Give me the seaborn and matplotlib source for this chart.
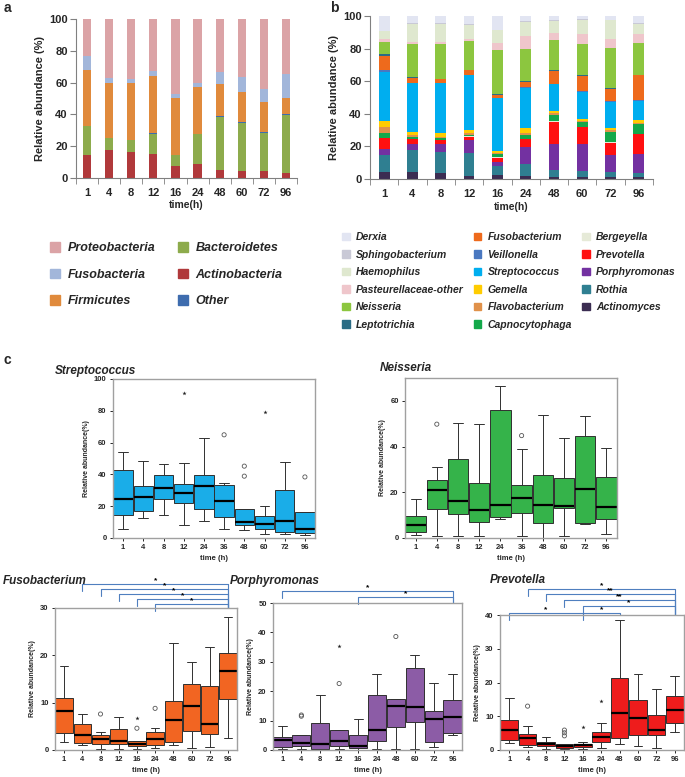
import numpy as np
import pandas as pd
import matplotlib
matplotlib.use("Agg")
import matplotlib.pyplot as plt
from matplotlib.patches import Patch
import seaborn as sns

sns.set_style("ticks")
plt.rcParams['font.family'] = ['Liberation Sans', 'DejaVu Sans']
plt.rcParams['font.weight'] = 'bold'

# ---------------- data ----------------
times_ab = ["1", "4", "8", "12", "16", "24", "48", "60", "72", "96"]

# panel a, phylum level (bottom -> top)
actinobacteria = [14.6, 17.8, 16.3, 15.3, 7.7, 8.6, 4.8, 4.6, 4.2, 3.1]
bacteroidetes = [17.8, 7.2, 7.7, 12.5, 6.5, 18.8, 33.5, 29.9, 24.0, 36.6]
other = [0.2, 0.2, 0.2, 0.2, 0.2, 0.2, 0.5, 0.5, 0.6, 0.8]
firmicutes = [35.4, 34.4, 35.4, 36.2, 35.8, 29.5, 20.4, 19.4, 18.9, 10.1]
fusobacteria = [9.0, 3.2, 2.4, 3.0, 2.5, 2.9, 7.4, 9.4, 8.2, 14.9]
proteobacteria = [23.0, 37.2, 38.0, 32.8, 47.3, 40.0, 33.4, 36.2, 44.1, 34.5]

# panel b, genus level (bottom -> top)
actinomyces = [4.1, 4.1, 3.5, 1.8, 2.4, 1.8, 1.4, 1.4, 1.4, 1.4]
rothia = [10.6, 13.7, 13.2, 14.3, 5.6, 7.2, 4.1, 3.5, 3.1, 2.5]
porphyromonas = [3.5, 3.4, 4.7, 7.8, 2.6, 10.8, 15.9, 16.3, 10.2, 11.2]
prevotella = [6.7, 3.1, 2.5, 2.0, 2.3, 4.5, 13.7, 10.4, 7.5, 12.5]
bergeyella = [0.3, 0.2, 0.2, 0.2, 0.4, 0.3, 0.3, 0.3, 0.4, 0.3]
capnocytophaga = [2.8, 1.0, 0.8, 0.8, 2.0, 2.3, 3.8, 3.2, 6.4, 5.8]
flavobacterium = [4.0, 1.4, 1.0, 1.1, 0.8, 1.1, 1.0, 0.6, 1.0, 0.8]
gemella = [3.5, 2.1, 2.1, 2.0, 1.2, 3.0, 1.6, 1.4, 1.4, 2.0]
streptococcus = [30.2, 29.6, 30.6, 33.7, 32.1, 25.1, 16.4, 16.4, 15.9, 11.5]
veillonella = [1.0, 0.4, 0.3, 0.3, 0.3, 0.3, 0.3, 0.5, 0.4, 0.5]
fusobacterium = [8.6, 3.2, 2.3, 2.7, 2.1, 3.2, 7.8, 9.3, 7.8, 15.2]
leptotrichia = [1.2, 0.3, 0.3, 0.3, 0.4, 0.3, 0.3, 0.3, 0.3, 0.3]
neisseria = [7.5, 20.5, 21.2, 17.7, 26.8, 19.7, 18.5, 19.4, 24.8, 19.5]
pasteurellaceae = [2.0, 1.0, 1.6, 1.4, 4.5, 8.2, 4.7, 5.8, 5.5, 5.7]
haemophilus = [4.5, 11.3, 11.0, 8.2, 7.7, 8.5, 7.1, 9.0, 11.2, 5.7]
sphingobacterium = [0.5, 0.5, 0.5, 0.5, 0.5, 0.5, 0.5, 0.5, 0.5, 0.5]
derxia = [9.0, 4.2, 4.2, 5.2, 8.3, 3.2, 2.6, 1.7, 2.2, 4.6]

# panel c, box summaries: (low whisker, q1, median, q3, high whisker)
times_sn = ["1", "4", "8", "12", "24", "36", "48", "60", "72", "96"]
times_fpp = ["1", "4", "8", "12", "16", "24", "48", "60", "72", "96"]

strep_box = [(5.5, 14.7, 24.4, 43.0, 54.0), (12.4, 17.0, 26.0, 32.8, 48.5),
             (14.5, 24.6, 31.7, 39.7, 46.4), (8.2, 22.3, 28.4, 33.8, 47.0),
             (10.7, 18.0, 32.6, 39.5, 62.6), (5.5, 13.2, 23.5, 33.2, 34.7),
             (4.8, 8.0, 10.0, 18.3, 18.5), (2.7, 5.7, 9.0, 13.9, 20.2),
             (2.7, 3.8, 10.5, 30.5, 48.0), (2.1, 3.2, 5.7, 16.3, 16.4)]
strep_out_t, strep_out_v = ["36", "48", "48", "96"], [64.9, 45.2, 38.9, 38.4]
strep_ext_t, strep_ext_v = ["12", "60"], [91.0, 79.2]

neis_box = [(1.5, 2.6, 5.7, 9.8, 17.2), (0.9, 12.8, 20.9, 25.3, 31.0),
            (0.7, 10.7, 16.3, 34.7, 50.5), (1.0, 6.9, 12.2, 24.2, 50.0),
            (8.2, 9.2, 14.5, 56.2, 66.4), (0.7, 11.0, 17.5, 23.4, 38.8),
            (0.1, 6.4, 14.6, 27.6, 53.6), (1.0, 13.3, 14.0, 26.4, 43.9),
            (6.0, 6.6, 21.6, 44.8, 53.3), (1.9, 8.2, 13.7, 26.7, 39.4)]
neis_out_t, neis_out_v = ["4", "36"], [49.8, 44.8]

fuso_box = [(1.6, 3.6, 8.2, 10.9, 17.8), (1.05, 1.5, 3.2, 5.4, 7.7),
            (0.3, 1.3, 2.25, 3.2, 3.9), (0.2, 1.3, 1.8, 4.4, 7.0),
            (0.3, 0.8, 1.3, 1.9, 2.0), (0.5, 1.05, 2.25, 3.9, 4.6),
            (1.0, 1.75, 6.3, 10.3, 22.6), (0.35, 4.0, 9.4, 14.0, 18.5),
            (0.55, 3.3, 5.55, 13.5, 21.8), (2.5, 10.75, 16.6, 20.4, 28.1)]
fuso_out_t, fuso_out_v = ["8", "16", "24"], [7.6, 4.6, 8.8]
fuso_ext_t, fuso_ext_v = ["16"], [6.7]

porph_box = [(0.2, 1.1, 3.5, 4.5, 8.1), (0.3, 1.35, 2.3, 5.0, 5.0),
             (0.0, 0.2, 2.0, 9.1, 18.8), (0.2, 1.5, 3.2, 6.8, 6.8),
             (0.1, 0.8, 1.5, 5.0, 10.4), (0.2, 3.2, 6.8, 18.6, 26.0),
             (0.2, 7.9, 14.9, 17.2, 17.3), (0.45, 9.6, 14.6, 28.0, 32.4),
             (1.1, 2.8, 10.7, 13.4, 22.9), (5.1, 5.9, 11.3, 17.0, 26.0)]
porph_out_t, porph_out_v = ["4", "4", "12", "48"], [11.9, 11.5, 22.6, 38.6]
porph_ext_t, porph_ext_v = ["12"], [35.5]

prev_box = [(2.0, 3.1, 5.9, 8.8, 15.3), (0.9, 1.5, 3.5, 4.6, 7.1),
            (0.2, 1.2, 1.9, 2.5, 4.0), (0.4, 0.7, 1.3, 1.8, 1.8),
            (0.4, 0.8, 1.4, 1.8, 2.5), (0.5, 2.4, 4.0, 5.2, 7.9),
            (1.7, 3.65, 11.1, 21.2, 38.5), (1.2, 4.5, 9.5, 14.9, 22.4),
            (0.7, 4.35, 5.9, 10.3, 18.2), (5.4, 8.1, 12.0, 16.0, 21.8)]
prev_out_t, prev_out_v = ["4", "12", "12", "12"], [13.0, 5.9, 5.1, 4.2]
prev_ext_t, prev_ext_v = ["16", "24"], [6.7, 14.5]

# significance brackets: (from, to, height above axes in px, label)
fuso_sig = [("4", "96", 24, "*"), ("8", "96", 19, "*"), ("12", "96", 14, "*"),
            ("16", "96", 9, "*"), ("24", "96", 4, "*")]
porph_sig = [("1", "96", 12, "*"), ("16", "96", 6, "*")]
prev_sig = [("4", "96", 26, "*"), ("8", "96", 21, "**"), ("12", "96", 15, "**"),
            ("16", "96", 9, "*"), ("1", "16", 2, "*"), ("16", "48", 2, "*")]

phylum_names = ["Actinobacteria", "Bacteroidetes", "Other", "Firmicutes",
                "Fusobacteria", "Proteobacteria"]
phylum_colors = ["#b0393b", "#8dab4c", "#3e6cae", "#e08a3c", "#a2b6da", "#dba3a6"]

genus_names = ["Actinomyces", "Rothia", "Porphyromonas", "Prevotella", "Bergeyella",
               "Capnocytophaga", "Flavobacterium", "Gemella", "Streptococcus",
               "Veillonella", "Fusobacterium", "Leptotrichia", "Neisseria",
               "Pasteurellaceae-other", "Haemophilus", "Sphingobacterium", "Derxia"]
genus_colors = ["#3b2d52", "#2f7f91", "#7331a1", "#ff1010", "#e6ead8",
                "#13a84a", "#e0914a", "#ffcc00", "#00aeef",
                "#4a78c0", "#ee6a1c", "#2a6c85", "#8cc63f",
                "#efc6cb", "#dfe8cf", "#c9c9d6", "#e2e5f2"]

# ---------------- figure ----------------
W, H = 685, 777
fig = plt.figure(figsize=(W / 100, H / 100), dpi=100)


def rect(l, t, r, b):
    return [l / W, 1 - b / H, (r - l) / W, (b - t) / H]


def stacked(ax, layers, colors, width):
    cum = np.cumsum(np.array(layers), axis=0)
    for i in range(len(layers) - 1, -1, -1):
        sns.barplot(x=times_ab, y=cum[i], order=times_ab, color=colors[i],
                    saturation=1, width=width, errorbar=None, linewidth=0, ax=ax)
    ax.set_ylim(0, 100)
    ax.set_xlim(-0.5, 9.5)
    ax.set_yticks(range(0, 101, 20))
    ax.set_xticks(range(10))
    ax.set_xticklabels(times_ab)
    ax.set_xticks(np.arange(-0.5, 10, 1), minor=True)
    ax.tick_params(axis="x", which="major", length=0, pad=7, labelsize=8)
    ax.tick_params(axis="x", which="minor", length=4, color="#808080")
    ax.tick_params(axis="y", length=4, color="#808080", labelsize=8, pad=2)
    for s in ["top", "right"]:
        ax.spines[s].set_visible(False)
    for s in ["left", "bottom"]:
        ax.spines[s].set_color("#808080")
    ax.set_ylabel("Relative abundance (%)", fontsize=8, fontweight="bold", labelpad=3)
    ax.set_xlabel("time(h)", fontsize=7.5, fontweight="bold", labelpad=2)


ax_a = fig.add_axes(rect(76, 19, 297, 178))
stacked(ax_a, [actinobacteria, bacteroidetes, other, firmicutes, fusobacteria,
               proteobacteria], phylum_colors, 0.37)

ax_b = fig.add_axes(rect(370, 16, 653, 179))
stacked(ax_b, [actinomyces, rothia, porphyromonas, prevotella, bergeyella,
               capnocytophaga, flavobacterium, gemella, streptococcus, veillonella,
               fusobacterium, leptotrichia, neisseria, pasteurellaceae, haemophilus,
               sphingobacterium, derxia], genus_colors, 0.38)

fig.text(4 / W, 1 - 8 / H, "a", fontsize=10, fontweight="bold", va="center")
fig.text(330 / W, 1 - 8 / H, "b", fontsize=10, fontweight="bold", va="center")
fig.text(4 / W, 1 - 360 / H, "c", fontsize=10, fontweight="bold", va="center")

leg_font = dict(family="Liberation Sans", weight="bold", style="italic")

# legend a (top of stack first)
order_a = [5, 4, 3, 1, 0, 2]
handles_a = [Patch(color=phylum_colors[i]) for i in order_a]
fig.legend(handles_a, [phylum_names[i] for i in order_a], ncol=2,
           loc="upper left", bbox_to_anchor=(44 / W, 1 - 236 / H), frameon=False,
           prop=dict(size=9, **leg_font), handlelength=0.8, handleheight=0.8,
           handletextpad=0.6, labelspacing=1.15, columnspacing=1.8, borderpad=0)

# legend b (reverse stack order)
order_b = [16, 15, 14, 13, 12, 11, 10, 9, 8, 7, 6, 5, 4, 3, 2, 1, 0]
handles_b = [Patch(color=genus_colors[i]) for i in order_b]
fig.legend(handles_b, [genus_names[i] for i in order_b], ncol=3,
           loc="upper left", bbox_to_anchor=(337 / W, 1 - 227 / H), frameon=False,
           prop=dict(size=7.5, **leg_font), handlelength=0.7, handleheight=0.7,
           handletextpad=0.6, labelspacing=0.72, columnspacing=1.0, borderpad=0)


def boxpanel(ax, times, stats, color, ymax, yticks, out_t=(), out_v=(),
             ext_t=(), ext_v=()):
    rows = [(t, v) for t, s in zip(times, stats) for v in s]
    df = pd.DataFrame(rows, columns=["time", "value"])
    sns.boxplot(data=df, x="time", y="value", order=times, color=color,
                saturation=1, width=0.96, whis=(0, 100), showfliers=False,
                linecolor="#303030", linewidth=0.7,
                medianprops=dict(color="black", linewidth=1.6), ax=ax)
    if len(out_t):
        sns.scatterplot(x=[times.index(t) for t in out_t], y=list(out_v), marker="o",
                        s=9, color="none", edgecolor="#555555", linewidth=0.6, ax=ax)
    if len(ext_t):
        sns.scatterplot(x=[times.index(t) for t in ext_t], y=list(ext_v), marker="*",
                        s=10, color="#222222", linewidth=0, ax=ax)
    ax.set_xlim(-0.5, 9.5)
    ax.set_ylim(0, ymax)
    ax.set_yticks(yticks)
    for s in ax.spines.values():
        s.set_visible(True)
        s.set_color("#a0a0a0")
        s.set_linewidth(1.0)
    ax.tick_params(length=2.5, width=0.7, labelsize=5.5, pad=2)
    ax.set_xlabel("time (h)", fontsize=5.5, fontweight="bold", labelpad=3)
    ax.set_ylabel("Relative abundance(%)", fontsize=5, fontweight="bold", labelpad=3)


def brackets(ax, times, sig, top_px):
    tr = ax.get_xaxis_transform()
    for a, b, h, lab in sig:
        x1, x2 = times.index(a), times.index(b)
        y = 1 + h / top_px
        d = 7 / top_px
        ax.plot([x1, x1, x2, x2], [y - d, y, y, 1.0], color="#4f7fbf", lw=0.8,
                transform=tr, clip_on=False)
        ax.text((x1 + x2) / 2, y + 0.2 / top_px, lab, transform=tr, ha="center",
                va="bottom", fontsize=6, color="black")


ax_s = fig.add_axes(rect(113, 379, 315, 538))
boxpanel(ax_s, times_sn, strep_box, "#1aade8", 100, range(0, 101, 20),
         strep_out_t, strep_out_v, strep_ext_t, strep_ext_v)

ax_n = fig.add_axes(rect(405, 378, 617, 538))
boxpanel(ax_n, times_sn, neis_box, "#35b34a", 70, range(0, 61, 20),
         neis_out_t, neis_out_v)

ax_f = fig.add_axes(rect(55, 608, 237, 750))
boxpanel(ax_f, times_fpp, fuso_box, "#f26522", 30, range(0, 31, 10),
         fuso_out_t, fuso_out_v, fuso_ext_t, fuso_ext_v)
brackets(ax_f, times_fpp, fuso_sig, 142)

ax_p = fig.add_axes(rect(273, 603, 462, 750))
boxpanel(ax_p, times_fpp, porph_box, "#8c5ca6", 50, range(0, 51, 10),
         porph_out_t, porph_out_v, porph_ext_t, porph_ext_v)
brackets(ax_p, times_fpp, porph_sig, 147)

ax_v = fig.add_axes(rect(500, 615, 684, 750))
boxpanel(ax_v, times_fpp, prev_box, "#ee1c1c", 40, range(0, 41, 10),
         prev_out_t, prev_out_v, prev_ext_t, prev_ext_v)
brackets(ax_v, times_fpp, prev_sig, 135)

title_font = dict(fontsize=8.5, fontweight="bold", style="italic", va="center")
fig.text(55 / W, 1 - 371 / H, "Streptococcus", **title_font)
fig.text(380 / W, 1 - 368 / H, "Neisseria", **title_font)
fig.text(3 / W, 1 - 581 / H, "Fusobacterium", **title_font)
fig.text(230 / W, 1 - 581 / H, "Porphyromonas", **title_font)
fig.text(490 / W, 1 - 580 / H, "Prevotella", **title_font)

fig.savefig("out.png", dpi=100)
